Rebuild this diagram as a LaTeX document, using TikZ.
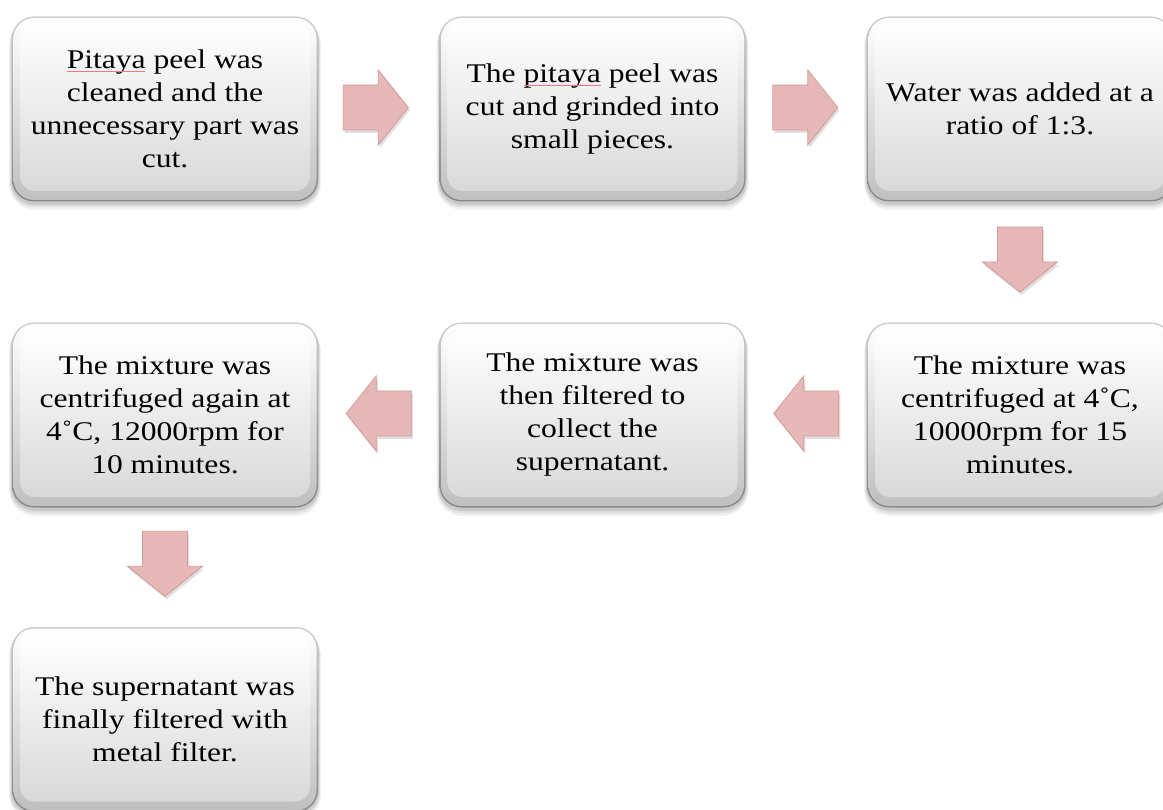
\documentclass[tikz,border=0pt]{standalone}
\usepackage{fontspec}
\setmainfont{Liberation Serif}[FakeStretch=1.17]
\usetikzlibrary{calc,backgrounds}

\definecolor{arrowpink}{HTML}{E6B9B8}
\definecolor{arrowedge}{HTML}{D49A98}
\definecolor{spell}{HTML}{EE7A7A}

\tikzset{
  stepbox/.style={align=center, font=\fontsize{27}{33}\selectfont,
    minimum width=306pt, minimum height=185pt, inner sep=0pt},
  flowarrow/.style={fill=arrowpink, draw=arrowedge, line width=0.8pt, line join=miter},
  arrowshadow/.style={fill=black, opacity=0.12},
  spellline/.style={draw=spell, line width=0.7pt},
}

% bevelled, shaded rounded panel behind a step node
\newcommand\bevelbox[1]{%
  \begin{scope}[shift={(#1.center)}]
    \fill[black, opacity=0.05, rounded corners=26] (-156,-89) rectangle (156,101);
    \fill[black, opacity=0.07, rounded corners=24] (-155,-90) rectangle (155,98.5);
    \fill[black, opacity=0.10, rounded corners=23] (-154,-91) rectangle (154,96);
    \shade[rounded corners=22, top color=gray!40, bottom color=gray!95]
      (-153,-92.5) rectangle (153,92.5);
    \shade[rounded corners=20.5, top color=white, bottom color=gray!50]
      (-151.5,-91) rectangle (151.5,91);
    \shade[rounded corners=15, top color=white, bottom color=gray!30]
      (-145,-85) rectangle (145,82);
  \end{scope}}

% block arrow centred on a coordinate; rotation gives the direction
\newcommand\blockarrow[2]{%
  \begin{scope}[shift={(#1)}]
    \begin{scope}[shift={(1.5,3)}, rotate=#2]
      \fill[arrowshadow] (-32.5,-22.5) -- (2.5,-22.5) -- (2.5,-37.5) -- (32.5,0)
        -- (2.5,37.5) -- (2.5,22.5) -- (-32.5,22.5) -- cycle;
    \end{scope}
    \begin{scope}[rotate=#2]
      \draw[flowarrow] (-32.5,-22.5) -- (2.5,-22.5) -- (2.5,-37.5) -- (32.5,0)
        -- (2.5,37.5) -- (2.5,22.5) -- (-32.5,22.5) -- cycle;
    \end{scope}
  \end{scope}}

\begin{document}
\begin{tikzpicture}[x=1pt, y=-1pt]
  \useasboundingbox (0,0) rectangle (1163,810);

  % steps
  \node[stepbox] (b1) at (165,109)
    {Pitaya peel was\\cleaned and the\\unnecessary part was\\cut.};
  \node[stepbox] (b2) at (592.5,109)
    {The pitaya peel was\\cut and grinded into\\small pieces.};
  \node[stepbox] (b3) at (1020,109)
    {Water was added at a\\ratio of 1:3.};
  \node[stepbox] (b4) at (1020,415)
    {The mixture was\\centrifuged at 4˚C,\\10000rpm for 15\\minutes.};
  \node[stepbox] (b5) at (592.5,415)
    {The mixture was\\then filtered to\\collect the\\supernatant.};
  \node[stepbox] (b6) at (165,415)
    {The mixture was\\centrifuged again at\\4˚C, 12000rpm for\\10 minutes.};
  \node[stepbox] (b7) at (165,719.5)
    {The supernatant was\\finally filtered with\\metal filter.};

  \begin{scope}[on background layer]
    \bevelbox{b1} \bevelbox{b2} \bevelbox{b3} \bevelbox{b4}
    \bevelbox{b5} \bevelbox{b6} \bevelbox{b7}
  \end{scope}

  % proofing underlines beneath "Pitaya" / "pitaya"
  \draw[spellline] ($(b1.center)+(-98,-37.5)$) -- ($(b1.center)+(-20,-37.5)$);
  \draw[spellline] ($(b2.center)+(-68.5,-23.5)$) -- ($(b2.center)+(8.5,-23.5)$);

  % arrows between consecutive steps
  \coordinate (a1) at ($(b1.east)!0.5!(b2.west)+(-3,-1.5)$);
  \coordinate (a2) at ($(b2.east)!0.5!(b3.west)+(-1,-1.5)$);
  \coordinate (a3) at ($(b3.south)!0.5!(b4.north)+(0,-2.5)$);
  \coordinate (a4) at ($(b4.west)!0.5!(b5.east)+(0,-1.5)$);
  \coordinate (a5) at ($(b5.west)!0.5!(b6.east)+(0,-1.5)$);
  \coordinate (a6) at ($(b6.south)!0.5!(b7.north)+(0,-3.5)$);

  \blockarrow{a1}{0}
  \blockarrow{a2}{0}
  \blockarrow{a3}{-90}
  \blockarrow{a4}{180}
  \blockarrow{a5}{180}
  \blockarrow{a6}{-90}
\end{tikzpicture}
\end{document}
